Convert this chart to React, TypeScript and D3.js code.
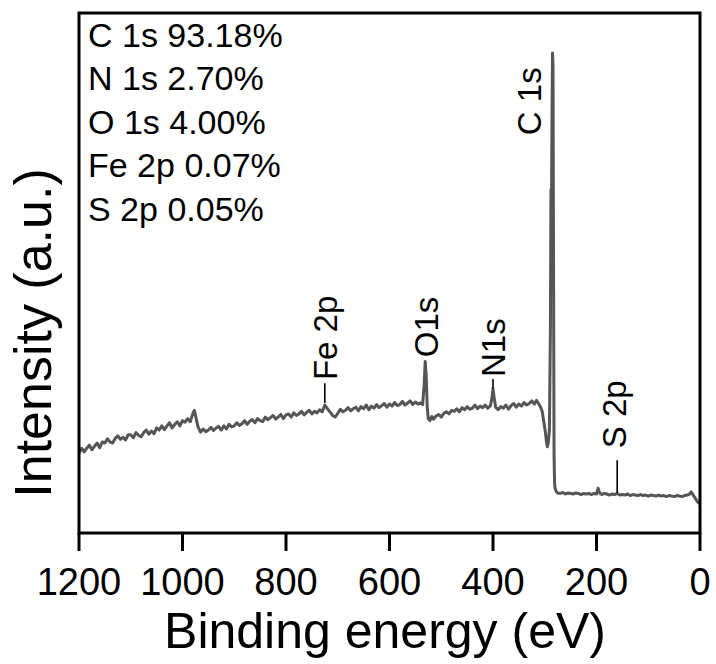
import React from "react";
import * as d3 from "d3";

// XPS survey spectrum: [binding energy (eV), intensity (a.u.)]
const spectrum: [number, number][] = [
  [1200, 15.4], [1195, 16.3], [1190, 15.6], [1185, 16.3], [1180, 16.9], [1175, 16.0], [1170, 16.7],
  [1165, 17.3], [1160, 16.4], [1155, 17.5], [1150, 17.3], [1145, 18.1], [1140, 17.5], [1135, 17.3],
  [1130, 18.2], [1125, 18.7], [1120, 18.0], [1115, 18.4], [1110, 17.9], [1105, 18.9], [1100, 18.9],
  [1095, 18.3], [1090, 19.3], [1085, 18.8], [1080, 18.5], [1075, 19.3], [1070, 19.8], [1065, 19.0],
  [1060, 19.6], [1055, 19.1], [1050, 20.2], [1045, 19.8], [1040, 20.6], [1035, 19.9], [1030, 20.6],
  [1025, 21.2], [1020, 20.2], [1015, 20.9], [1010, 21.4], [1005, 20.6], [1000, 21.6], [995, 21.3],
  [990, 22.0], [985, 21.4], [980, 23.0], [977, 23.6], [974, 22.2], [970, 20.4], [965, 19.4],
  [960, 20.0], [955, 19.5], [950, 19.8], [945, 20.3], [940, 19.7], [935, 20.2], [930, 20.5],
  [925, 19.8], [920, 20.6], [915, 20.0], [910, 20.9], [905, 20.4], [900, 20.6], [895, 21.2],
  [890, 20.7], [885, 21.0], [880, 21.6], [875, 20.9], [870, 21.5], [865, 21.8], [860, 21.2],
  [855, 22.0], [850, 21.6], [845, 21.4], [840, 22.3], [835, 21.8], [830, 22.2], [825, 22.6],
  [820, 21.9], [815, 22.3], [810, 22.8], [805, 22.0], [800, 22.7], [795, 22.9], [790, 22.3],
  [785, 23.1], [780, 22.6], [775, 22.9], [770, 23.4], [765, 22.7], [760, 23.2], [755, 23.6],
  [750, 22.9], [745, 23.4], [740, 23.1], [735, 23.7], [730, 23.3], [725, 24.6], [720, 23.9],
  [715, 23.3], [710, 22.6], [705, 22.3], [700, 23.0], [695, 23.8], [690, 23.3], [685, 23.6],
  [680, 24.1], [675, 23.5], [670, 23.9], [665, 24.2], [660, 23.5], [655, 24.3], [650, 23.9],
  [645, 24.6], [640, 23.7], [635, 24.4], [630, 24.0], [625, 24.7], [620, 24.1], [615, 24.5],
  [610, 24.9], [605, 24.2], [600, 24.8], [595, 24.4], [590, 25.1], [585, 24.5], [580, 24.7],
  [575, 25.3], [570, 24.6], [565, 25.0], [560, 25.4], [555, 24.7], [550, 25.2], [545, 24.8],
  [540, 25.0], [536, 24.7], [533, 28.5], [531, 33.0], [529, 30.0], [527, 24.0], [525, 22.0],
  [522, 21.6], [518, 22.4], [515, 21.9], [510, 22.5], [505, 22.8], [500, 22.3], [495, 23.0],
  [490, 23.3], [485, 22.9], [480, 23.6], [475, 23.4], [470, 23.9], [465, 23.3], [460, 24.1],
  [455, 23.7], [450, 24.3], [445, 23.8], [440, 24.0], [435, 24.6], [430, 23.9], [425, 24.4],
  [420, 24.1], [415, 24.6], [410, 24.0], [405, 24.5], [402, 26.0], [400, 27.8], [398, 26.2],
  [395, 24.2], [390, 23.7], [385, 24.3], [380, 24.0], [375, 24.6], [370, 23.8], [365, 24.5],
  [360, 24.9], [355, 24.2], [350, 24.8], [345, 24.4], [340, 25.1], [335, 24.6], [330, 24.9],
  [325, 25.4], [320, 24.8], [316, 25.5], [312, 24.9], [308, 24.2], [305, 23.4], [302, 21.5],
  [299, 19.6], [297, 17.8], [295, 16.6], [293, 17.5], [291, 19.8], [289, 40.0], [288, 66.0],
  [287, 62.0], [286, 80.0], [285, 92.3], [284, 90.0], [283, 50.0], [282, 15.0], [281, 9.5],
  [280, 8.6], [278, 8.0], [275, 7.7], [270, 7.6], [265, 7.8], [260, 7.5], [255, 7.7],
  [250, 7.6], [245, 7.5], [240, 7.7], [235, 7.6], [230, 7.4], [225, 7.6], [220, 7.5],
  [215, 7.6], [210, 7.4], [205, 7.6], [200, 7.5], [197, 8.6], [195, 8.0], [192, 7.5],
  [190, 7.4], [185, 7.6], [180, 7.5], [175, 7.3], [170, 7.5], [165, 7.4], [160, 7.6],
  [155, 7.3], [150, 7.4], [145, 7.3], [140, 7.5], [135, 7.2], [130, 7.4], [125, 7.3],
  [120, 7.2], [115, 7.4], [110, 7.2], [105, 7.3], [100, 7.1], [95, 7.3], [90, 7.2],
  [85, 7.1], [80, 7.3], [75, 7.1], [70, 7.2], [65, 7.0], [60, 7.2], [55, 7.1], [50, 7.0],
  [45, 7.2], [40, 7.1], [35, 7.0], [30, 7.2], [25, 7.3], [20, 7.5], [17, 7.9], [15, 7.6],
  [10, 6.8], [5, 6.0], [0, 5.6],
];

const xTicks = [1200, 1000, 800, 600, 400, 200, 0];

const compositionLines = [
  "C 1s 93.18%",
  "N 1s 2.70%",
  "O 1s 4.00%",
  "Fe 2p 0.07%",
  "S 2p 0.05%",
];

// peak labels: text, label energy, label start intensity
const peakLabels: { text: string; e: number; i: number }[] = [
  { text: "C 1s", e: 330, i: 76.5 },
  { text: "O1s", e: 530, i: 33.8 },
  { text: "N1s", e: 399, i: 30.0 },
  { text: "Fe 2p", e: 725, i: 29.4 },
  { text: "S 2p", e: 166, i: 16.3 },
];

// marker lines: energy, from intensity, to intensity
const markerLines: { e: number; i0: number; i1: number }[] = [
  { e: 725, i0: 25.0, i1: 28.8 },
  { e: 400, i0: 27.8, i1: 29.6 },
  { e: 160, i0: 7.7, i1: 14.0 },
];

const W = 716;
const H = 664;
const L = 79;
const R = 700;
const T = 13;
const B = 533;
const FONT = "'Liberation Sans', Arial, Helvetica, sans-serif";

export default function App() {
  const x = d3.scaleLinear().domain([1200, 0]).range([L, R]);
  const y = d3.scaleLinear().domain([0, 100]).range([B, T]);
  const line = d3
    .line<[number, number]>()
    .x((d) => x(d[0]))
    .y((d) => y(d[1]));

  return (
    <svg
      width={W}
      height={H}
      style={{ position: "absolute", left: 0, top: 0, background: "#fff" }}
      fontFamily={FONT}
    >
      <rect x={0} y={0} width={W} height={H} fill="#fff" />
      <path d={line(spectrum) || ""} fill="none" stroke="#555" strokeWidth={3} strokeLinejoin="round" />

      {markerLines.map((m, k) => (
        <line key={k} x1={x(m.e)} x2={x(m.e)} y1={y(m.i0)} y2={y(m.i1)} stroke="#000" strokeWidth={1.6} />
      ))}

      {peakLabels.map((p, k) => (
        <text
          key={k}
          transform={`translate(${x(p.e)},${y(p.i)}) rotate(-90)`}
          dy="0.36em"
          fontSize={33}
          fill="#000"
        >
          {p.text}
        </text>
      ))}

      {compositionLines.map((t, k) => (
        <text key={k} x={88} y={46.5 + k * 43.6} fontSize={34} fill="#000">
          {t}
        </text>
      ))}

      <rect x={L} y={T} width={R - L} height={B - T} fill="none" stroke="#000" strokeWidth={3} />

      {xTicks.map((t) => (
        <g key={t}>
          <line x1={x(t)} x2={x(t)} y1={B} y2={551} stroke="#000" strokeWidth={3} />
          <text x={x(t)} y={595} textAnchor="middle" fontSize={38} fill="#000">
            {t}
          </text>
        </g>
      ))}

      <text x={385} y={648} textAnchor="middle" fontSize={50} fill="#000">
        Binding energy (eV)
      </text>
      <text
        transform={`translate(51,333) rotate(-90)`}
        textAnchor="middle"
        fontSize={52}
        fill="#000"
      >
        Intensity (a.u.)
      </text>
    </svg>
  );
}
